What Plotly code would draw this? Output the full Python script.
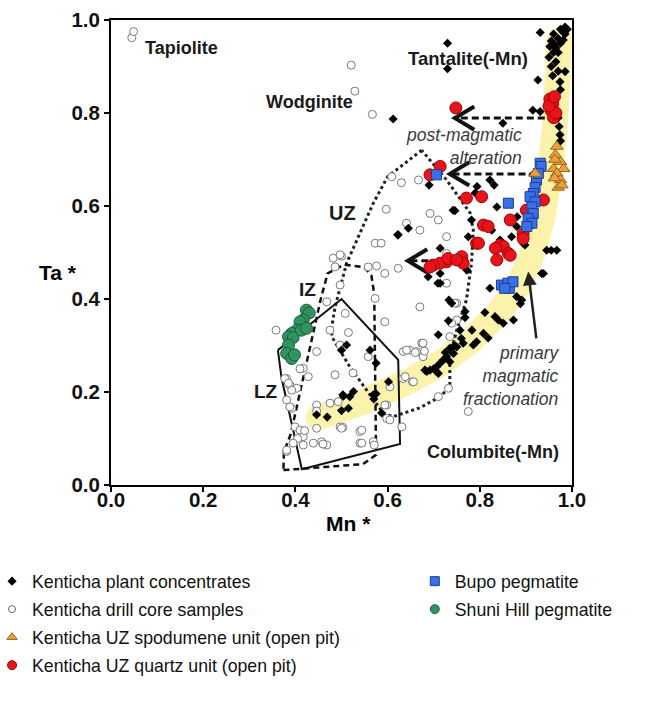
import numpy as np
import plotly.graph_objects as go

# ---------------- data (Mn* , Ta*) ----------------
plant_mn = [0.931,0.730,0.730,0.955,0.96,0.965,0.97,0.975,0.98,0.96,0.95,0.955,0.965,0.97,0.975,0.985,0.99,0.958,0.97,
            0.952,0.962,0.981,0.985,0.974,0.926,0.985,0.975,
            0.612,0.85,0.915,0.931,0.972,0.974,0.975,0.97,
            0.915,0.69,0.79,0.822,0.831,0.746,0.837,0.881,0.915,0.915,0.775,0.794,0.742,0.782,0.826,0.869,0.88,0.844,0.80,0.898,
            0.967,0.945,0.714,0.938,0.772,0.714,0.714,0.822,0.739,0.88,0.888,
            0.623,0.688,0.709,0.733,0.894,0.955,0.934,0.891,
            0.768,0.811,0.833,0.851,0.84,0.873,0.732,0.768,0.757,0.783,0.808,0.71,0.818,0.793,0.764,0.75,0.735,0.786,0.743,0.728,
            0.721,0.735,0.714,0.706,0.692,0.685,0.706,0.71,0.70,0.725,0.745,0.76,
            0.602,0.569,0.518,0.587,0.57,0.681,
            0.511,0.50,0.562,0.575,0.575,0.526,0.504,0.515,0.446,0.469,0.645,0.622,0.503,0.50]
plant_ta = [0.973,0.950,0.895,0.955,0.97,0.94,0.96,0.98,0.975,0.93,0.92,0.90,0.91,0.93,0.95,0.985,0.98,0.88,0.89,
            0.943,0.947,0.957,0.97,0.867,0.871,0.889,0.85,
            0.787,0.778,0.806,0.803,0.771,0.753,0.74,0.79,
            0.667,0.645,0.628,0.656,0.645,0.59,0.598,0.577,0.57,0.56,0.534,0.642,0.591,0.57,0.548,0.534,0.556,0.527,0.52,0.516,
            0.505,0.505,0.509,0.455,0.462,0.455,0.434,0.423,0.391,0.405,0.39,
            0.538,0.448,0.434,0.398,0.52,0.505,0.455,0.398,
            0.373,0.371,0.362,0.348,0.355,0.355,0.353,0.36,0.333,0.333,0.326,0.323,0.316,0.308,0.305,0.297,0.294,0.301,0.283,0.276,
            0.269,0.265,0.262,0.254,0.247,0.244,0.244,0.24,0.25,0.285,0.30,0.315,
            0.222,0.194,0.19,0.155,0.185,0.247,
            0.301,0.29,0.29,0.262,0.196,0.201,0.191,0.165,0.151,0.146,0.552,0.538,0.194,0.16]

core_mn = [0.045,0.049,0.521,0.529,0.567,
           0.609,0.63,0.667,0.597,0.692,0.71,0.641,0.67,0.728,0.573,0.586,
           0.482,0.50,0.486,0.558,0.576,0.594,0.623,0.497,0.468,0.573,0.67,0.497,
           0.358,0.508,0.594,0.515,0.497,0.558,0.446,0.417,0.428,0.41,0.486,0.634,0.648,0.663,0.674,0.677,0.634,0.654,
           0.381,0.388,0.403,0.392,0.446,0.475,0.493,0.446,0.598,0.392,0.598,0.631,0.399,0.41,0.417,0.405,0.446,0.497,
           0.503,0.54,0.569,0.417,0.439,0.457,0.468,0.381,0.54,0.571,
           0.377,0.385,0.381,0.388,0.42,0.395,0.381,0.475,0.50,0.46,
           0.728,0.728,0.75,0.75,0.735,0.66,0.68,0.641,0.638,0.656,0.605,0.594,0.605,0.544,0.544,0.71,0.775,0.525,
           0.746,0.739,0.677,0.732]
core_ta = [0.962,0.975,0.903,0.847,0.797,
           0.663,0.65,0.656,0.593,0.584,0.57,0.563,0.548,0.534,0.52,0.52,
           0.488,0.492,0.469,0.469,0.471,0.455,0.466,0.43,0.394,0.401,0.383,0.495,
           0.333,0.369,0.351,0.328,0.301,0.276,0.287,0.251,0.233,0.25,0.237,0.287,0.29,0.287,0.305,0.276,0.229,0.222,
           0.229,0.215,0.208,0.204,0.172,0.176,0.179,0.159,0.172,0.165,0.143,0.125,0.125,0.118,0.104,0.10,0.122,0.125,
           0.124,0.115,0.093,0.086,0.09,0.093,0.086,0.072,0.09,0.086,
           0.229,0.219,0.183,0.168,0.117,0.09,0.075,0.333,0.122,0.088,
           0.498,0.434,0.391,0.355,0.319,0.285,0.288,0.29,0.233,0.222,0.211,0.172,0.14,0.118,0.09,0.19,0.158,0.241,
           0.391,0.348,0.305,0.208]

spod_mn = [0.967,0.964,0.975,0.96,0.982,0.967,0.975,0.97,0.962,0.978,0.963,0.92]
spod_ta = [0.728,0.71,0.695,0.68,0.68,0.67,0.656,0.64,0.66,0.645,0.70,0.67]

quartz_mn = [0.748,0.952,0.958,0.955,0.96,0.965,0.95,0.962,
             0.692,0.714,0.771,0.804,0.866,0.901,0.938,0.808,0.818,0.894,0.793,0.844,0.851,0.834,0.862,0.837,0.866,
             0.761,0.764,0.728,0.714,0.699,0.692,0.731,0.75,0.797,0.894]
quartz_ta = [0.811,0.83,0.82,0.805,0.79,0.80,0.815,0.835,
             0.667,0.685,0.617,0.62,0.57,0.591,0.613,0.559,0.556,0.541,0.52,0.516,0.513,0.509,0.498,0.484,0.494,
             0.491,0.477,0.48,0.477,0.473,0.469,0.487,0.484,0.52,0.53]

bupo_mn = [0.931,0.933,0.923,0.92,0.916,0.909,0.92,0.913,0.916,0.905,0.913,0.902,0.927,0.862,0.706,0.847,0.861,0.864,0.872,0.854]
bupo_ta = [0.692,0.685,0.656,0.64,0.627,0.62,0.609,0.598,0.584,0.573,0.563,0.556,0.67,0.606,0.667,0.43,0.434,0.423,0.437,0.423]

shuni_mn = [0.424,0.43,0.417,0.41,0.403,0.392,0.385,0.395,0.385,0.381,0.392,0.398,0.413,0.424]
shuni_ta = [0.376,0.37,0.355,0.351,0.333,0.326,0.319,0.317,0.301,0.283,0.272,0.28,0.333,0.337]

# zone outlines (Mn*, Ta*)
lz_mn = [0.362,0.50,0.623,0.627,0.414,0.37,0.362]
lz_ta = [0.29,0.40,0.269,0.088,0.034,0.23,0.29]
iz_mn = [0.374,0.547,0.575,0.571,0.565,0.55,0.505,0.47,0.455,0.39,0.375,0.374]
iz_ta = [0.032,0.045,0.065,0.41,0.45,0.468,0.474,0.455,0.40,0.11,0.07,0.032]
uz_mn = [0.674,0.60,0.569,0.533,0.511,0.486,0.479,0.479,0.518,0.591,0.612,0.67,0.714,0.735,0.735,0.75,0.771,0.782,0.786,0.779,0.728,0.674]
uz_ta = [0.72,0.663,0.606,0.527,0.477,0.383,0.34,0.319,0.254,0.154,0.147,0.166,0.19,0.211,0.276,0.333,0.398,0.477,0.548,0.585,0.656,0.72]

# fractionation trend band (centre line)
band_mn = [0.45,0.55,0.65,0.72,0.78,0.84,0.885,0.915,0.937,0.952,0.962,0.968,0.972]
band_ta = [0.145,0.18,0.225,0.265,0.31,0.37,0.43,0.50,0.58,0.67,0.76,0.86,0.955]

# alteration arrows: tail Mn*, head Mn*, Ta*
alt_tail_mn = [0.941,0.923,0.76]
alt_head_mn = [0.746,0.735,0.644]
alt_ta = [0.789,0.669,0.482]

# primary fractionation arrow
prim_tail = (0.923,0.312)
prim_head = (0.905,0.459)

tick_vals = [0.0,0.2,0.4,0.6,0.8,1.0]

FONT = "Arial, Liberation Sans, sans-serif"
fig = go.Figure()

# ---- yellow band polygon ----
bx = np.array(band_mn); by = np.array(band_ta)
dx = np.gradient(bx); dy = np.gradient(by)
L = np.hypot(dx, dy); tx, ty = dx / L, dy / L
nx, ny = -ty, tx
hw = 0.028
lx, ly = bx + nx * hw, by + ny * hw
rx, ry = bx - nx * hw, by - ny * hw
th = np.linspace(0, np.pi, 12)
cap_top_x = bx[-1] + hw * (np.cos(th) * nx[-1] + np.sin(th) * tx[-1])
cap_top_y = by[-1] + hw * (np.cos(th) * ny[-1] + np.sin(th) * ty[-1])
cap_bot_x = bx[0] + hw * (-np.cos(th) * nx[0] - np.sin(th) * tx[0])
cap_bot_y = by[0] + hw * (-np.cos(th) * ny[0] - np.sin(th) * ty[0])
px_ = np.concatenate([lx, cap_top_x, rx[::-1], cap_bot_x])
py_ = np.concatenate([ly, cap_top_y, ry[::-1], cap_bot_y])
fig.add_trace(go.Scatter(x=px_, y=py_, fill="toself", fillcolor="#FBF2AC", mode="lines",
                         line=dict(width=0, color="#FBF2AC"), showlegend=False, hoverinfo="skip"))

# ---- zone outlines ----
fig.add_trace(go.Scatter(x=uz_mn, y=uz_ta, mode="lines", line=dict(color="#222", width=3, dash="dot"),
                         showlegend=False, hoverinfo="skip"))
fig.add_trace(go.Scatter(x=iz_mn, y=iz_ta, mode="lines", line=dict(color="#111", width=2.5, dash="6px,4px"),
                         showlegend=False, hoverinfo="skip"))
fig.add_trace(go.Scatter(x=lz_mn, y=lz_ta, mode="lines", line=dict(color="#111", width=2),
                         showlegend=False, hoverinfo="skip"))

# ---- data points ----
fig.add_trace(go.Scatter(x=core_mn, y=core_ta, mode="markers", showlegend=False,
                         marker=dict(symbol="circle", size=8, color="white", line=dict(color="#7a7a7a", width=1))))
fig.add_trace(go.Scatter(x=plant_mn, y=plant_ta, mode="markers", showlegend=False,
                         marker=dict(symbol="diamond", size=7, color="black", line=dict(width=0))))

# ---- alteration arrows (dashed with open chevron head) ----
for t, h, y in zip(alt_tail_mn, alt_head_mn, alt_ta):
    fig.add_trace(go.Scatter(x=[t, h + 0.005], y=[y, y], mode="lines",
                             line=dict(color="#111", width=3, dash="7px,4px"), showlegend=False, hoverinfo="skip"))
    fig.add_trace(go.Scatter(x=[h + 0.042, h, h + 0.042], y=[y + 0.025, y, y - 0.025], mode="lines",
                             line=dict(color="#111", width=4), showlegend=False, hoverinfo="skip"))

fig.add_trace(go.Scatter(x=quartz_mn, y=quartz_ta, mode="markers", showlegend=False,
                         marker=dict(symbol="circle", size=12, color="#E8141B", line=dict(color="#A30000", width=1))))
fig.add_trace(go.Scatter(x=bupo_mn, y=bupo_ta, mode="markers", showlegend=False,
                         marker=dict(symbol="square", size=10, color="#3A6FE6", line=dict(color="#1D3E9A", width=1))))
fig.add_trace(go.Scatter(x=spod_mn, y=spod_ta, mode="markers", showlegend=False,
                         marker=dict(symbol="triangle-up", size=11, color="#E9A23B", line=dict(color="#9A6418", width=1))))
fig.add_trace(go.Scatter(x=shuni_mn, y=shuni_ta, mode="markers", showlegend=False,
                         marker=dict(symbol="circle", size=12, color="#2F9460", line=dict(color="#1B5E3B", width=1))))

# ---- legend entries ----
leg = [
    ("Kenticha plant concentrates", dict(symbol="diamond", size=7, color="black"), "legend"),
    ("Kenticha drill core samples", dict(symbol="circle", size=7, color="white", line=dict(color="#666", width=1)), "legend"),
    ("Kenticha UZ spodumene unit (open pit)", dict(symbol="triangle-up", size=9, color="#E9A23B", line=dict(color="#9A6418", width=1)), "legend"),
    ("Kenticha UZ quartz unit (open pit)", dict(symbol="circle", size=9, color="#E8141B", line=dict(color="#A30000", width=1)), "legend"),
    ("Bupo pegmatite", dict(symbol="square", size=9, color="#3A6FE6", line=dict(color="#1D3E9A", width=1)), "legend2"),
    ("Shuni Hill pegmatite", dict(symbol="circle", size=9, color="#2F9460", line=dict(color="#1B5E3B", width=1)), "legend2"),
]
for i, (name, mk, lg) in enumerate(leg):
    fig.add_trace(go.Scatter(x=[None], y=[None], mode="markers", name=name, marker=mk,
                             legend=lg, legendgroup=f"g{i}", showlegend=True))

# ---- annotations ----
ann = []
def lab(x, y, text, size=17, bold=True, italic=False, color="#1a1a1a", xanchor="center", align="center"):
    ann.append(dict(x=x, y=y, xref="x", yref="y", text=text, showarrow=False, xanchor=xanchor, yanchor="middle",
                    align=align,
                    font=dict(family=FONT, size=size, color=color, weight="bold" if bold else "normal",
                              style="italic" if italic else "normal")))

lab(0.154, 0.94, "Tapiolite", 18)
lab(0.43, 0.824, "Wodginite", 18)
lab(0.774, 0.918, "Tantalite(-Mn)", 18.5)
lab(0.828, 0.071, "Columbite(-Mn)", 18)
lab(0.503, 0.585, "UZ", 20)
lab(0.427, 0.421, "IZ", 19)
lab(0.336, 0.202, "LZ", 19)
lab(0.895, 0.729, "post-magmatic<br>alteration", 17.5, bold=False, italic=True, color="#3a3a3a", xanchor="right", align="right")
lab(0.978, 0.234, "primary<br>magmatic<br>fractionation", 17.5, bold=False, italic=True, color="#3a3a3a", xanchor="right", align="right")

ann.append(dict(x=prim_head[0], y=prim_head[1], ax=prim_tail[0], ay=prim_tail[1], xref="x", yref="y",
                axref="x", ayref="y", showarrow=True, arrowhead=2, arrowsize=1.1, arrowwidth=2.5,
                arrowcolor="#222", text=""))

ann.append(dict(x=-0.115, y=0.458, xref="paper", yref="paper", text="Ta *", showarrow=False,
                xanchor="center", yanchor="middle",
                font=dict(family=FONT, size=21, color="black", weight="bold")))
ann.append(dict(x=0.516, y=-0.082, xref="paper", yref="paper", text="Mn *", showarrow=False,
                xanchor="center", yanchor="middle",
                font=dict(family=FONT, size=21, color="black", weight="bold")))

axis_common = dict(range=[0, 1], tickvals=tick_vals, tickformat=".1f", ticks="outside", ticklen=5, tickwidth=2,
                   tickcolor="black", showline=True, linewidth=2, linecolor="black", mirror=True,
                   showgrid=False, zeroline=False,
                   tickfont=dict(family=FONT, size=20.5, color="#111", weight="bold"))

fig.update_layout(
    width=650, height=701,
    margin=dict(l=111, r=78, t=20, b=216, autoexpand=False),
    paper_bgcolor="white", plot_bgcolor="white",
    xaxis=dict(axis_common, ticklabelstandoff=-10), yaxis=dict(axis_common, ticklabelstandoff=0),
    annotations=ann,
    legend=dict(x=-0.258, y=-0.168, xanchor="left", yanchor="top", bgcolor="rgba(0,0,0,0)",
                font=dict(family=FONT, size=17.7, color="#111"), tracegroupgap=2, itemsizing="trace"),
    legend2=dict(x=0.659, y=-0.168, xanchor="left", yanchor="top", bgcolor="rgba(0,0,0,0)",
                 font=dict(family=FONT, size=17.7, color="#111"), tracegroupgap=2, itemsizing="trace"),
)

fig.write_html("out.html")
